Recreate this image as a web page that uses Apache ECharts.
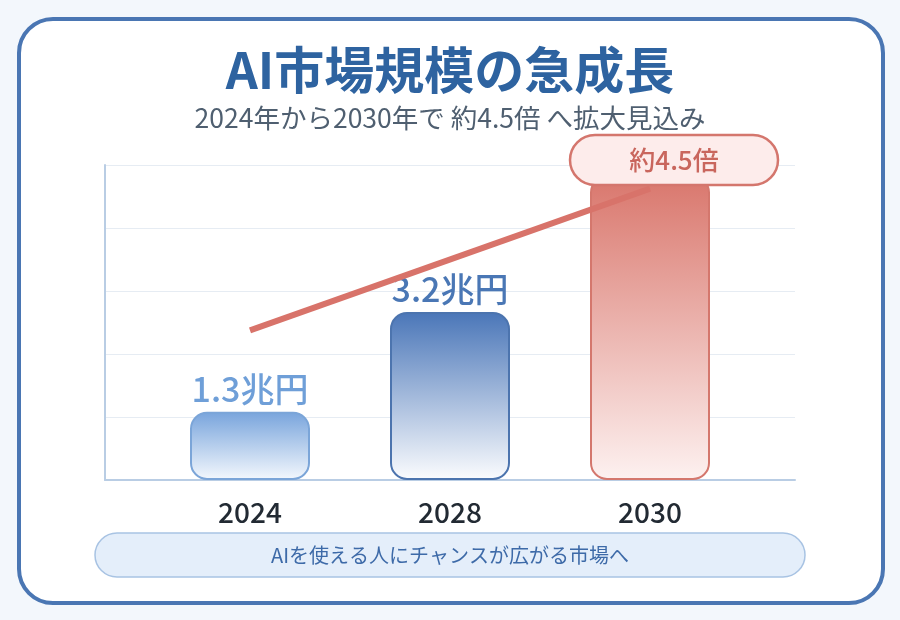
<!DOCTYPE html>
<html><head><meta charset="utf-8">
<script src="https://cdn.jsdelivr.net/npm/echarts@6/dist/echarts.min.js"></script>
<style>html,body{margin:0;padding:0;background:#f3f7fc;}#c{width:900px;height:620px;}</style>
</head><body><div id="c"></div>
<script>
const categories = ['2024', '2028', '2030'];
const marketValues = [1.3, 3.2, 5.8];
const valueLabels = ['1.3兆円', '3.2兆円', '5.8兆円'];
const trendValues = [2.85, null, 5.55];
const titleText = 'AI市場規模の急成長';
const subtitleText = '2024年から2030年で 約4.5倍 へ拡大見込み';
const badgeText = '約4.5倍';
const footerText = 'AIを使える人にチャンスが広がる市場へ';

const font = '"Noto Sans CJK JP","Noto Sans",sans-serif';
const barStyles = [
  {top:'#78a4dc', bottom:'#f4f8fd', border:'#7ba5d8', label:'#6f9fd8'},
  {top:'#4a76b8', bottom:'#fbfcfe', border:'#4c74ae', label:'#4a77b5'},
  {top:'#d9766c', bottom:'#fdf1f0', border:'#d4776d', label:'#d4776d'}
];
const grad = (s) => new echarts.graphic.LinearGradient(0,0,0,1,[{offset:0,color:s.top},{offset:1,color:s.bottom}]);

const chart = echarts.init(document.getElementById('c'), null, {renderer:'canvas'});
chart.setOption({
  backgroundColor:'#f3f7fc',
  animation:false,
  title:[
    {text:titleText, left:'center', top:40, textStyle:{fontFamily:font, fontSize:50, fontWeight:'bold', color:'#2e63a0'}},
    {text:subtitleText, left:'center', top:100, textStyle:{fontFamily:font, fontSize:26.5, fontWeight:'normal', color:'#4f5f70'}}
  ],
  grid:[
    {left:105, right:105, top:165, bottom:140},
    {left:150, right:150, top:165, bottom:140}
  ],
  xAxis:[
    {gridIndex:0, type:'category', data:categories, axisLine:{show:true, lineStyle:{color:'#b9cde4', width:2}}, axisTick:{show:false}, axisLabel:{show:false}},
    {gridIndex:1, type:'category', data:categories, axisLine:{show:false}, axisTick:{show:false},
     axisLabel:{margin:18, fontFamily:font, fontSize:28, fontWeight:500, color:'#222a33'}}
  ],
  yAxis:[
    {gridIndex:0, type:'value', min:0, max:6, interval:1.2, axisLine:{show:true, lineStyle:{color:'#b9cde4', width:2}}, axisTick:{show:false}, axisLabel:{show:false}, splitLine:{lineStyle:{color:'#e6ecf3', width:1}}},
    {gridIndex:1, type:'value', min:0, max:6, interval:1.2, show:false, splitLine:{show:false}}
  ],
  series:[
    {type:'bar', xAxisIndex:1, yAxisIndex:1, barWidth:120, z:2,
     data: marketValues.map((v,i)=>({value:v, itemStyle:{color:grad(barStyles[i]), borderColor:barStyles[i].border, borderWidth:2, borderRadius:16},
       label:{show:true, position:'top', distance:6, formatter:valueLabels[i], fontFamily:font, fontSize:34, fontWeight:500, color:barStyles[i].label}}))
    },
    {type:'line', xAxisIndex:1, yAxisIndex:1, z:3, data:trendValues, connectNulls:true, symbol:'none', lineStyle:{color:'#d8736a', width:6}}
  ],
  graphic:[
    {type:'rect', z:-10, shape:{x:19, y:19, width:864, height:584, r:34}, style:{fill:'#ffffff', stroke:'#4a76b3', lineWidth:4}},
    {type:'rect', z:10, shape:{x:95, y:533, width:710, height:44, r:22}, style:{fill:'#e4eefa', stroke:'#a8c3e3', lineWidth:1.5}},
    {type:'text', z:11, x:450, y:555, style:{text:footerText, fontFamily:font, fontSize:20, fill:'#3d6aa8', align:'center', verticalAlign:'middle'}},
    {type:'rect', z:20, shape:{x:570, y:135, width:208, height:50, r:25}, style:{fill:'#fdeceb', stroke:'#d4766d', lineWidth:2.5}},
    {type:'text', z:21, x:674, y:160, style:{text:badgeText, fontFamily:font, fontSize:26, fontWeight:500, fill:'#c9665d', align:'center', verticalAlign:'middle'}}
  ]
});
</script></body></html>
